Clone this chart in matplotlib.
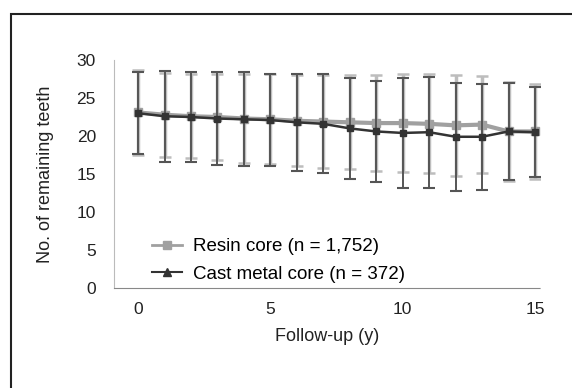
import matplotlib.pyplot as plt
from matplotlib.patches import Rectangle
from matplotlib.lines import Line2D

plt.rcParams['font.family'] = ['Liberation Sans', 'DejaVu Sans']

years = list(range(16))

resin_mean = [23.1, 22.8, 22.6, 22.5, 22.3, 22.2, 22.0, 21.9, 21.8, 21.7, 21.7, 21.6, 21.4, 21.5, 20.6, 20.6]
resin_sd = [5.6, 5.5, 5.5, 5.6, 5.8, 5.9, 6.0, 6.1, 6.2, 6.3, 6.4, 6.5, 6.6, 6.4, 6.5, 6.3]

cast_mean = [23.0, 22.6, 22.5, 22.3, 22.2, 22.1, 21.8, 21.6, 21.0, 20.6, 20.4, 20.5, 19.9, 19.9, 20.6, 20.5]
cast_sd = [5.4, 6.0, 5.9, 6.1, 6.2, 6.1, 6.4, 6.5, 6.6, 6.7, 7.2, 7.3, 7.1, 7.0, 6.4, 5.9]

labels = ['Resin core (n = 1,752)', 'Cast metal core (n = 372)']

fig = plt.figure(figsize=(5.72, 3.88), dpi=100)
ax = fig.add_axes([114 / 572, 1 - 288 / 388, 426 / 572, 228 / 388])

ax.errorbar(years, resin_mean, yerr=resin_sd, color='#a0a0a0', ecolor='#bdbdbd',
            marker='s', markersize=6, linewidth=3, elinewidth=2.5, capsize=4,
            capthick=1.8, zorder=2)
ax.errorbar(years, cast_mean, yerr=cast_sd, color='#333333', ecolor='#555555',
            marker='s', markersize=5, linewidth=1.8, elinewidth=1.4, capsize=4,
            capthick=1.5, zorder=3)

ax.set_xlim(-0.91, 15.19)
ax.set_ylim(0, 30)
ax.set_xticks([0, 5, 10, 15])
ax.set_yticks(range(0, 31, 5))
for s in ['top', 'right']:
    ax.spines[s].set_visible(False)
ax.spines['bottom'].set_color('#888888')
ax.spines['bottom'].set_linestyle((0, (3, 1)))
ax.spines['left'].set_color('#bbbbbb')
ax.spines['left'].set_linestyle((0, (3, 1)))
ax.tick_params(axis='both', length=0, labelsize=12.5, colors='#222222')
ax.tick_params(axis='y', pad=13)
ax.tick_params(axis='x', pad=10)

ax.set_xlabel('Follow-up (y)', fontsize=13, color='#222222', labelpad=8)
ax.set_ylabel('No. of remaining teeth', fontsize=13, color='#222222', labelpad=16)

handles = [Line2D([], [], color='#a0a0a0', marker='s', markersize=6, linewidth=2),
           Line2D([], [], color='#333333', marker='^', markersize=6, linewidth=1.5)]
ax.legend(handles, labels, loc='lower left', bbox_to_anchor=(0.05, -0.05),
          frameon=False, fontsize=13.5, handlelength=1.6, handletextpad=0.6,
          labelspacing=0.55)

fig.patches.append(Rectangle((11 / 572, -0.05), 0.99, 1.05 - 14 / 388,
                             transform=fig.transFigure, fill=False,
                             edgecolor='#222222', linewidth=1.5))

fig.savefig('out.png', dpi=100)
